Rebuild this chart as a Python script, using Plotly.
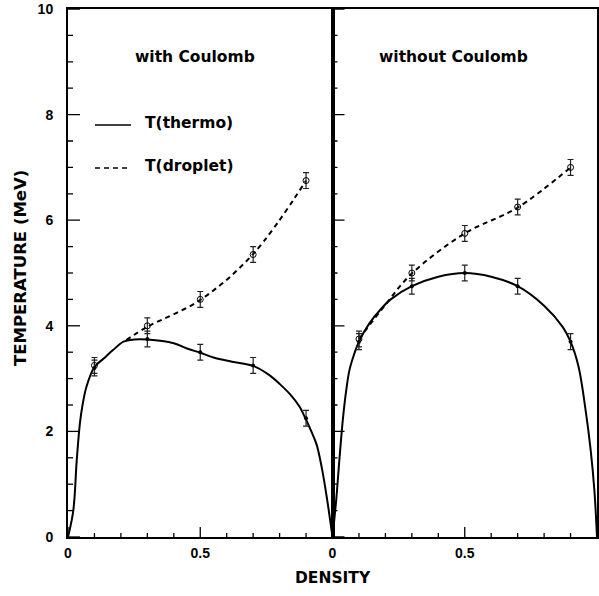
import plotly.graph_objects as go

# ---------------- data ----------------
pts_x = [0.1, 0.3, 0.5, 0.7, 0.9]
with_thermo_T = [3.2, 3.75, 3.5, 3.25, 2.25]
with_drop_T = [3.25, 4.0, 4.5, 5.35, 6.75]
wo_thermo_T = [3.7, 4.75, 5.0, 4.75, 3.7]
wo_drop_T = [3.75, 5.0, 5.75, 6.25, 7.0]
err_T = 0.15

with_curve_x = [0.0, 0.02, 0.033, 0.045, 0.055, 0.07, 0.1, 0.135, 0.17, 0.21, 0.25, 0.3,
                0.4, 0.45, 0.5, 0.55, 0.62, 0.7, 0.76, 0.8, 0.84, 0.875, 0.9, 0.92, 0.94,
                0.96, 0.98, 1.0]
with_curve_T = [0.0, 0.5, 1.45, 2.15, 2.5, 2.85, 3.22, 3.38, 3.54, 3.7, 3.74, 3.74,
                3.67, 3.57, 3.49, 3.4, 3.32, 3.24, 3.07, 2.9, 2.7, 2.47, 2.22, 2.0, 1.75,
                1.3, 0.7, 0.0]

wo_curve_x = [0.0, 0.014, 0.026, 0.039, 0.052, 0.064, 0.083, 0.1, 0.14, 0.18, 0.22, 0.3,
              0.4, 0.5, 0.6, 0.7, 0.8, 0.87, 0.9, 0.93, 0.957, 0.976, 0.99, 1.0]
wo_curve_T = [0.0, 0.7, 1.46, 2.22, 2.78, 3.16, 3.48, 3.7, 4.05, 4.3, 4.5, 4.75,
              4.93, 5.0, 4.93, 4.75, 4.38, 3.98, 3.7, 3.23, 2.4, 1.65, 0.89, 0.0]

with_drop_curve_x = [0.22, 0.3, 0.5, 0.7, 0.9]
with_drop_curve_T = [3.73, 3.98, 4.49, 5.36, 6.75]
wo_drop_curve_x = [0.1, 0.2, 0.3, 0.5, 0.7, 0.9]
wo_drop_curve_T = [3.75, 4.4, 4.99, 5.75, 6.24, 7.0]

panel_titles = ["with Coulomb", "without Coulomb"]
legend_names = ["T(thermo)", "T(droplet)"]
x_major = [0, 0.5, 1]
x_minor = [i / 10 for i in range(11)]
y_major = [0, 2, 4, 6, 8, 10]
y_minor = [i / 2 for i in range(21)]

FONT = "DejaVu Sans"
NUMFONT = "Liberation Sans"
DASH = "5px,4px"

L, R, T, B = 68, 2, 9, 59
W, H = 599, 596
PW, PH = W - L - R, H - T - B
XRANGE, YRANGE = [0, 1], [0, 10]
def px(xp):
    return (xp - L) / PW
def py(yp):
    return (H - B - yp) / PH

fig = go.Figure()

def add_panel(xa, ya, cx, cT, dx, dT, thermoT, dropT):
    fig.add_trace(go.Scatter(x=cx, y=cT, mode="lines", xaxis=xa, yaxis=ya,
                             line=dict(color="black", width=2, shape="spline", smoothing=1),
                             name=legend_names[0], showlegend=False))
    fig.add_trace(go.Scatter(x=dx, y=dT, mode="lines", xaxis=xa, yaxis=ya,
                             line=dict(color="black", width=2, dash=DASH, shape="spline", smoothing=1),
                             name=legend_names[1], showlegend=False))
    fig.add_trace(go.Scatter(x=pts_x, y=dropT, mode="markers", xaxis=xa, yaxis=ya,
                             marker=dict(symbol="circle-open", size=6, color="black", line=dict(width=1)),
                             error_y=dict(type="constant", value=err_T, color="#222", thickness=1.2, width=3),
                             showlegend=False))
    fig.add_trace(go.Scatter(x=pts_x, y=thermoT, mode="markers", xaxis=xa, yaxis=ya,
                             marker=dict(symbol="circle", size=4, color="black"),
                             error_y=dict(type="constant", value=err_T, color="#222", thickness=1.2, width=3),
                             showlegend=False))
    # inward tick marks at the axis tick values (pixel lengths converted to data units)
    half_w = PW / 2
    tx, ty = [], []
    for v in x_minor:
        ln = (10 if v in x_major else 4) * (YRANGE[1] - YRANGE[0]) / PH
        tx += [v, v, None]
        ty += [YRANGE[0], YRANGE[0] + ln, None]
    for v in y_minor:
        ln = (12 if v in y_major else 5) * (XRANGE[1] - XRANGE[0]) / half_w
        tx += [XRANGE[0], XRANGE[0] + ln, None]
        ty += [v, v, None]
    fig.add_trace(go.Scatter(x=tx, y=ty, mode="lines", xaxis=xa, yaxis=ya, cliponaxis=False,
                             line=dict(color="black", width=1.3), showlegend=False,
                             hoverinfo="skip", connectgaps=False))

add_panel("x", "y", with_curve_x, with_curve_T, with_drop_curve_x, with_drop_curve_T,
          with_thermo_T, with_drop_T)
add_panel("x2", "y2", wo_curve_x, wo_curve_T, wo_drop_curve_x, wo_drop_curve_T,
          wo_thermo_T, wo_drop_T)

tickfont = dict(family=NUMFONT, size=14, color="black", weight="bold")

def main_x(dom, vals, text, anchor):
    return dict(domain=dom, anchor=anchor, range=XRANGE, tickmode="array", tickvals=vals,
                ticktext=text, ticks="", showline=True, mirror=True, linecolor="black",
                linewidth=2, showgrid=False, zeroline=False, tickfont=tickfont,
                ticklabelstandoff=2, fixedrange=True)

def main_y(anchor, labels):
    return dict(domain=[0, 1], anchor=anchor, range=YRANGE, tickmode="array", tickvals=y_major,
                ticks="", showline=True, mirror=True, linecolor="black", linewidth=2,
                showgrid=False, zeroline=False, showticklabels=labels, tickfont=tickfont,
                ticklabelstandoff=10, fixedrange=True)

fig.update_layout(
    template="none",
    width=W, height=H,
    margin=dict(l=L, r=R, t=T, b=B),
    paper_bgcolor="white", plot_bgcolor="white",
    showlegend=False,
    xaxis=main_x([0, 0.5], x_major[:2], ["0", "0.5"], "y"),
    xaxis2=main_x([0.5, 1], x_major, ["0", "0.5", "1"], "y2"),
    yaxis=main_y("x", True),
    yaxis2=main_y("x2", False),
)

leg_rows = [125, 168]
leg_dash = ["solid", DASH]
for name, yrow, dsh in zip(legend_names, leg_rows, leg_dash):
    fig.add_shape(type="line", xref="paper", yref="paper", x0=px(95), x1=px(131),
                  y0=py(yrow), y1=py(yrow), line=dict(color="black", width=1.5, dash=dsh))
    fig.add_annotation(text=name, x=px(143), y=py(yrow - 2), xref="paper", yref="paper",
                       showarrow=False, xanchor="left", yanchor="middle",
                       font=dict(family=FONT, size=15.5, color="black", weight="bold"))

for title, cx in zip(panel_titles, [195, 453]):
    fig.add_annotation(text=title, x=px(cx), y=py(57), xref="paper", yref="paper",
                       showarrow=False, xanchor="center", yanchor="middle",
                       font=dict(family=FONT, size=15.5, color="black", weight="bold"))

fig.add_annotation(text="DENSITY", x=px(333), y=py(578), xref="paper", yref="paper", showarrow=False,
                   xanchor="center", yanchor="middle",
                   font=dict(family=FONT, size=15.5, color="black", weight="bold"))
fig.add_annotation(text="TEMPERATURE (MeV)", x=px(20), y=py(268), xref="paper", yref="paper",
                   showarrow=False, textangle=-90, xanchor="center", yanchor="middle",
                   font=dict(family=FONT, size=16.5, color="black", weight="bold"))

fig.write_html("out.html")
